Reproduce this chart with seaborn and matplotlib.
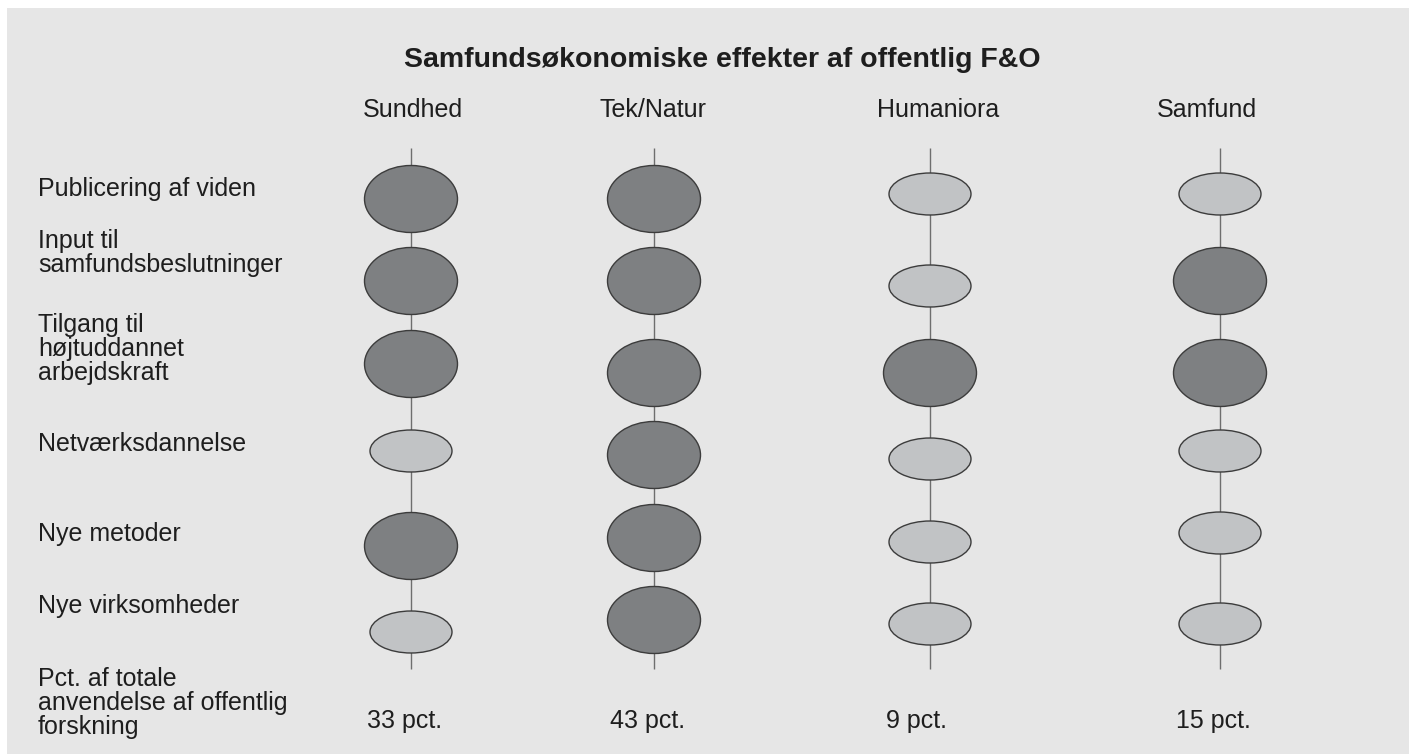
import matplotlib
matplotlib.use("Agg")
import matplotlib.pyplot as plt
from matplotlib.patches import Ellipse, Rectangle
import seaborn as sns

# ---------------- data ----------------
title = "Samfundsøkonomiske effekter af offentlig F&O"
columns = ["Sundhed", "Tek/Natur", "Humaniora", "Samfund"]
rows = [
    "Publicering af viden",
    "Input til\nsamfundsbeslutninger",
    "Tilgang til\nhøjtuddannet\narbejdskraft",
    "Netværksdannelse",
    "Nye metoder",
    "Nye virksomheder",
]
# 1 = stor effekt (large dark ellipse), 0 = mindre effekt (small light ellipse)
effect_sundhed = [1, 1, 1, 0, 1, 0]
effect_teknatur = [1, 1, 1, 1, 1, 1]
effect_humaniora = [0, 0, 1, 0, 0, 0]
effect_samfund = [0, 1, 1, 0, 0, 0]
effects = [effect_sundhed, effect_teknatur, effect_humaniora, effect_samfund]
pct_values = [33, 43, 9, 15]
pct_label = "Pct. af totale\nanvendelse af offentlig\nforskning"

# ---------------- layout (pixel coordinates) ----------------
W, H = 1409, 756
col_x = [411, 654, 930, 1220]
header_x = [413, 653, 938, 1207]
row_y = [
    [199, 281, 364, 451, 546, 632],
    [199, 281, 373, 455, 538, 620],
    [194, 286, 373, 459, 542, 624],
    [194, 281, 373, 451, 533, 624],
]
label_top = [177, 229, 313, 432, 522, 594]
size_big = (93, 67)
size_small = (82, 42)
col_dark = "#7e8082"
col_light = "#c1c3c5"
edge = "#3c3c3c"
txt = "#1e1e1e"

sns.set_theme(style="white")
plt.rcParams["font.family"] = ["Liberation Sans", "DejaVu Sans"]

fig = plt.figure(figsize=(W / 100, H / 100), dpi=100)
fig.patch.set_facecolor("white")
ax = fig.add_axes([0, 0, 1, 1])
ax.set_xlim(0, W)
ax.set_ylim(H, 0)
ax.axis("off")

ax.add_patch(Rectangle((7, 8), W - 7, H - 10, facecolor="#e6e6e6", edgecolor="none", zorder=0))

ax.text(722, 67, title, ha="center", va="baseline", fontsize=20.5, fontweight="bold", color=txt)

for j, name in enumerate(columns):
    x = col_x[j]
    ax.text(header_x[j], 117, name, ha="center", va="baseline", fontsize=18, color=txt)
    ax.vlines(x, 148, 669, color="#6e6e6e", lw=1.0, zorder=1)
    for i, lvl in enumerate(effects[j]):
        w, h = size_big if lvl else size_small
        ax.add_patch(Ellipse((x, row_y[j][i]), w, h,
                             facecolor=col_dark if lvl else col_light,
                             edgecolor=edge, lw=1.0, zorder=2))
    ax.text(x - 44, 728, f"{pct_values[j]} pct.", ha="left", va="baseline",
            fontsize=18, color=txt)

for i, lab in enumerate(rows):
    ax.text(38, label_top[i], lab, ha="left", va="top", fontsize=18,
            color=txt, linespacing=1.0)

ax.text(38, 667, pct_label, ha="left", va="top", fontsize=18, color=txt, linespacing=1.0)

fig.savefig("out.png", dpi=100, facecolor="white")
